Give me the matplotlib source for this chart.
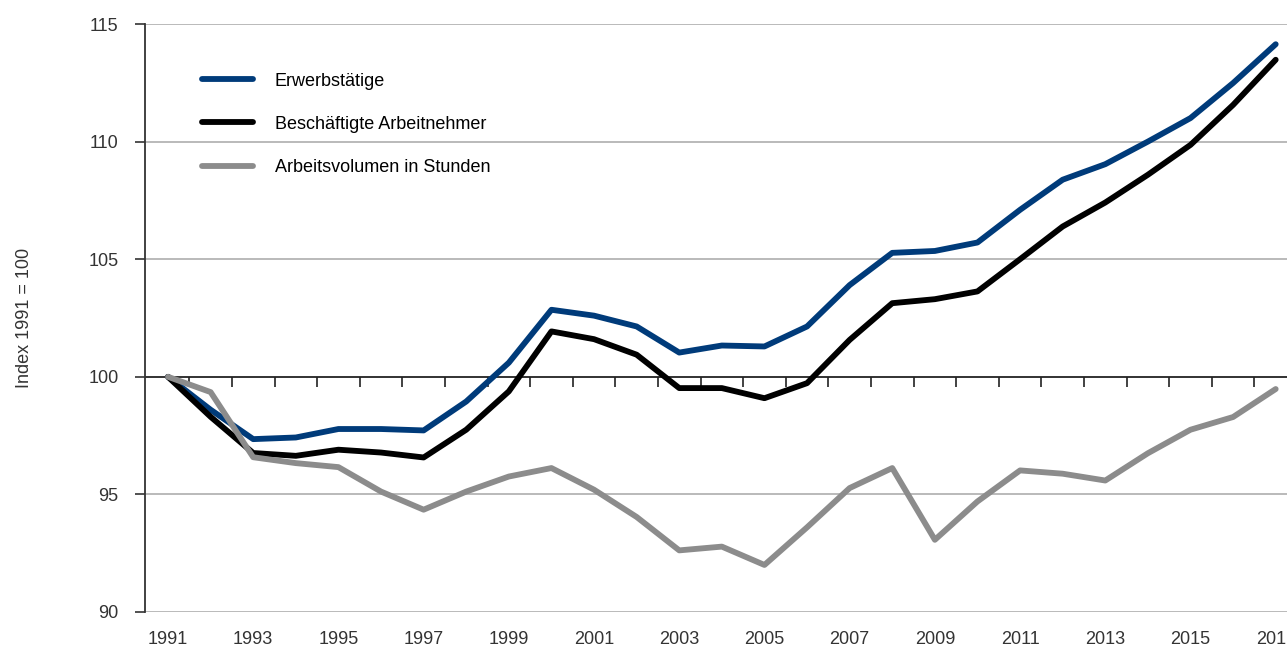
import matplotlib
matplotlib.use("Agg")
import matplotlib.pyplot as plt

years = list(range(1991, 2018))
erwerbstaetige = [100.0, 98.6, 97.35, 97.42, 97.78, 97.78, 97.72, 98.95, 100.6, 102.85,
                  102.6, 102.14, 101.03, 101.33, 101.29, 102.14, 103.9, 105.27, 105.35, 105.71,
                  107.1, 108.38, 109.04, 110.0, 111.0, 112.49, 114.14]
arbeitnehmer = [100.0, 98.3, 96.76, 96.64, 96.9, 96.78, 96.57, 97.75, 99.38, 101.93,
                101.6, 100.94, 99.52, 99.52, 99.09, 99.73, 101.57, 103.13, 103.3, 103.63,
                105.0, 106.39, 107.41, 108.59, 109.86, 111.56, 113.48]
arbeitsvolumen = [100.0, 99.35, 96.58, 96.33, 96.16, 95.12, 94.35, 95.12, 95.76, 96.12,
                  95.2, 94.04, 92.62, 92.78, 92.0, 93.6, 95.27, 96.12, 93.07, 94.7,
                  96.02, 95.88, 95.59, 96.75, 97.75, 98.29, 99.48]
labels = ["Erwerbstätige", "Beschäftigte Arbeitnehmer", "Arbeitsvolumen in Stunden"]
colors = ["#003b7a", "#000000", "#8c8c8c"]
yticks = [90, 95, 100, 105, 110, 115]

plt.rcParams['font.family'] = ['Liberation Sans Narrow', 'Liberation Sans', 'DejaVu Sans']

fig = plt.figure(figsize=(12.87, 6.49), dpi=100)
ax = fig.add_axes([145 / 1287, 1 - 612 / 649, 1152 / 1287, (612 - 24) / 649])

for vals, lab, col in zip([erwerbstaetige, arbeitnehmer, arbeitsvolumen], labels, colors):
    ax.plot(years, vals, color=col, lw=4.2, label=lab, solid_capstyle='round', zorder=3)

ax.set_xlim(1990.46, 2017.5)
ax.set_ylim(90, 115)
ax.set_yticks(yticks)
ax.set_yticklabels([str(t) for t in yticks], fontsize=13, color="#333333")
for t in yticks:
    if t != 100:
        ax.axhline(t, color="#b4b4b4", lw=1.3, zorder=1)
ax.axhline(100, color="#222222", lw=1.3, zorder=2)

ax.set_xticks(years[::2])
ax.set_xticklabels([str(y) for y in years[::2]], fontsize=13, color="#333333")
ax.tick_params(axis='x', length=0, pad=14)
ax.tick_params(axis='y', length=7, width=1.2, color="#333333", pad=12)

for s in ['top', 'right', 'bottom']:
    ax.spines[s].set_visible(False)
ax.spines['left'].set_color("#333333")
ax.spines['left'].set_linewidth(1.3)

# ticks between years on the 100 line
sec = ax.secondary_xaxis(0.4)
sec.set_xticks([y + 0.5 for y in years[:-1]])
sec.set_xticklabels([])
sec.tick_params(length=7, width=1.2, color="#222222")
sec.spines['bottom'].set_visible(False)

ax.set_ylabel("Index 1991 = 100", fontsize=13, color="#333333", labelpad=40)

leg = ax.legend(loc='upper left', bbox_to_anchor=(0.035, 0.945), frameon=False,
                handlelength=2.85, handletextpad=1.2, labelspacing=1.45,
                prop={'family': ['Liberation Sans', 'DejaVu Sans'], 'size': 13})

fig.savefig("out.png", dpi=100)
